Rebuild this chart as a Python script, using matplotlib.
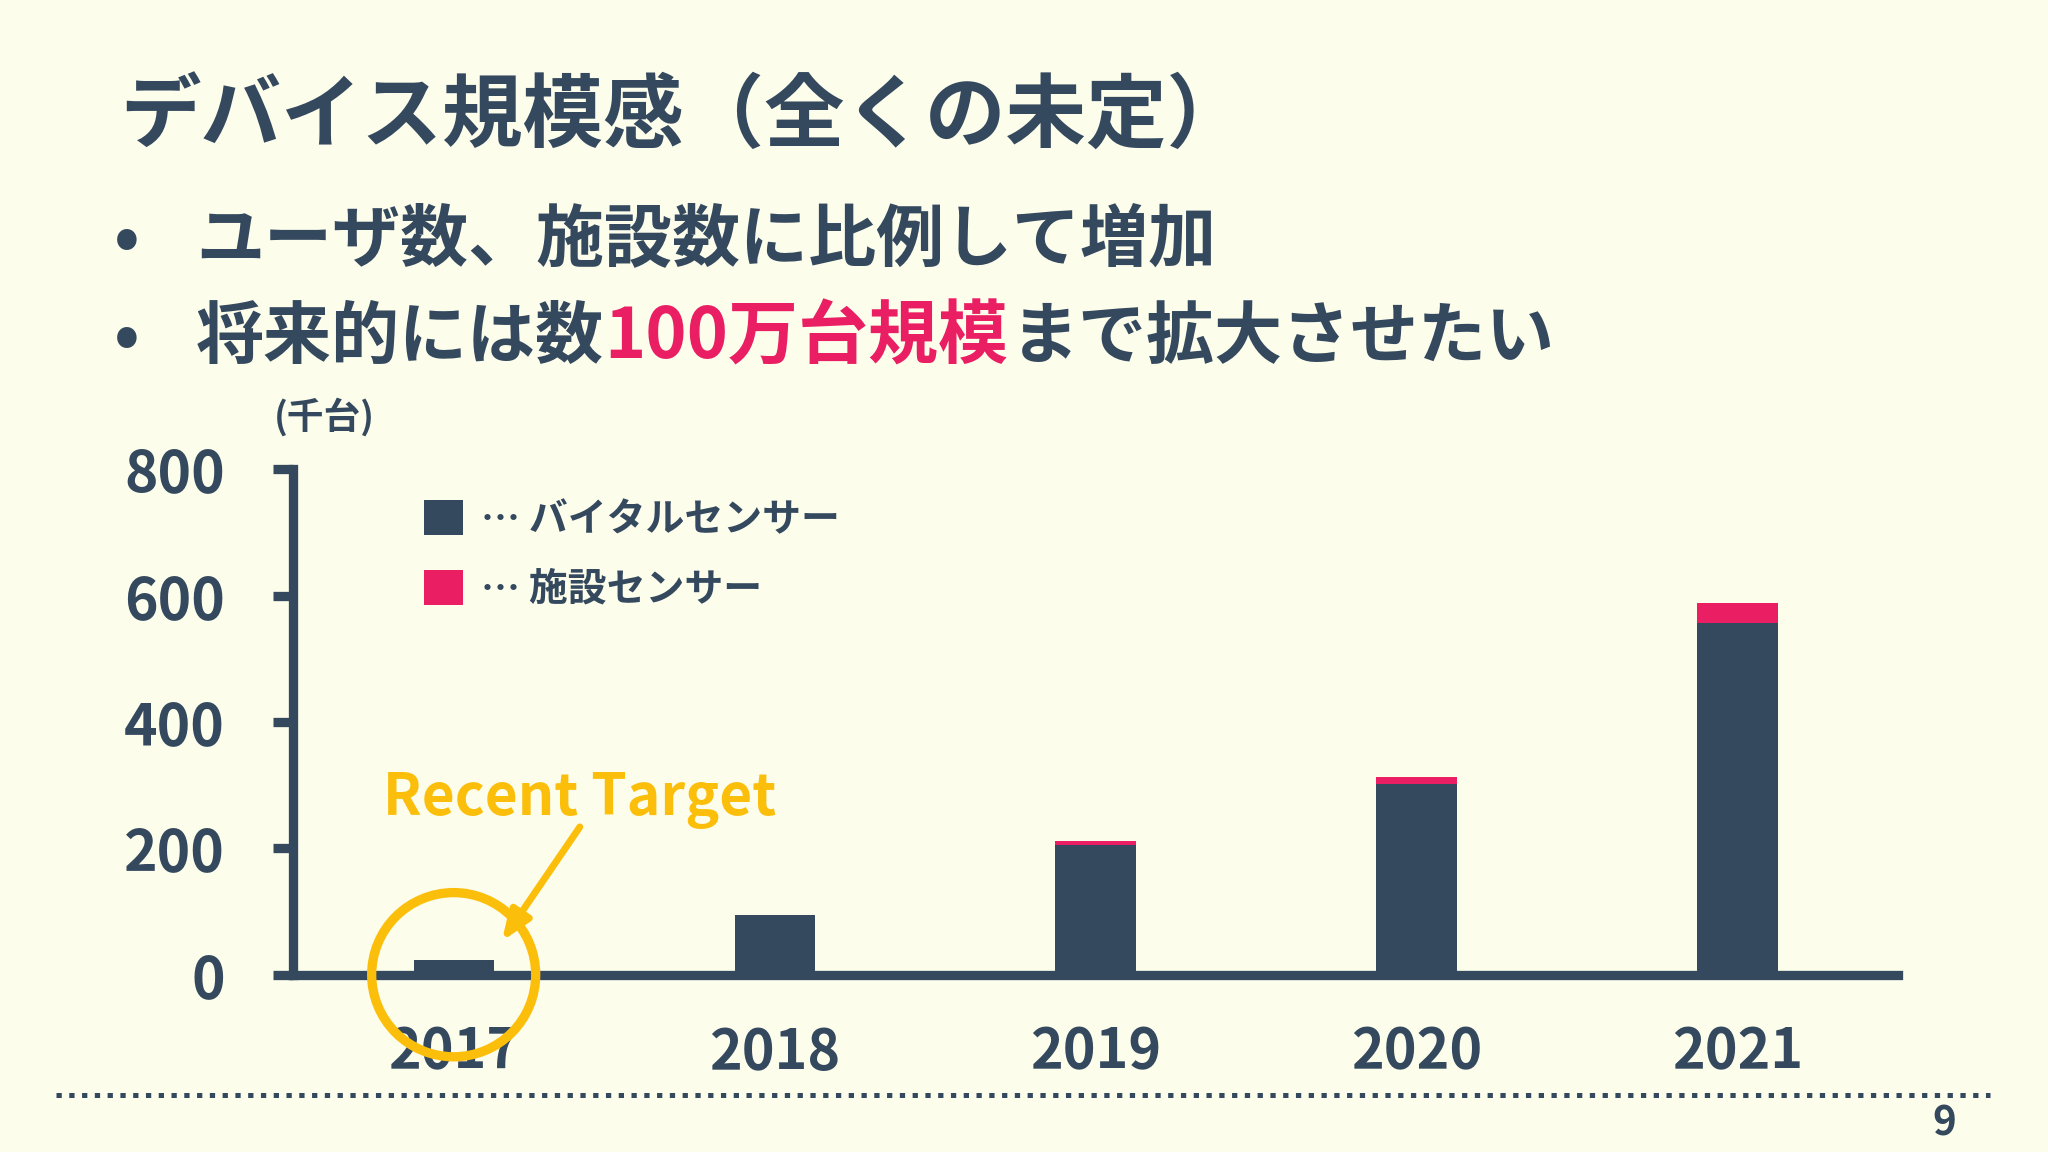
import matplotlib
matplotlib.use('Agg')
import matplotlib.pyplot as plt
from matplotlib.patches import Ellipse
from matplotlib.lines import Line2D

# ---- data ----
years = ['2017', '2018', '2019', '2020', '2021']
vital = [23, 95, 206, 302, 557]
facility = [0, 0, 5, 11, 32]
yticks = [0, 200, 400, 600, 800]
legend_labels = ['… バイタルセンサー', '… 施設センサー']
title = 'デバイス規模感（全くの未定）'
bullet1 = 'ユーザ数、施設数に比例して増加'
bullet2_parts = ['将来的には数', '100万台規模', 'まで拡大させたい']
unit_label = '(千台)'
annot_text = 'Recent Target'
page_no = '9'

DARK = '#34495e'
PINK = '#e91e63'
YELLOW = '#fbbf0b'
BG = '#fdfdec'

plt.rcParams['font.family'] = ['Noto Sans CJK JP', 'DejaVu Sans']
plt.rcParams['font.weight'] = 'bold'
plt.rcParams['lines.scale_dashes'] = False

W, H = 2048, 1152
fig = plt.figure(figsize=(10.24, 5.76), dpi=200, facecolor=BG)

def fx(px):
    return px / W

def fy(py):
    return 1 - py / H

ax = fig.add_axes([fx(293.2), fy(974.7), fx(1898) - fx(293.2), fy(469.5) - fy(974.7)])
ax.set_facecolor('none')

x = list(range(len(years)))
b1 = ax.bar(x, vital, 0.25, color=DARK, linewidth=0, label=legend_labels[0], zorder=2)
b2 = ax.bar(x, facility, 0.25, bottom=vital, color=PINK, linewidth=0, label=legend_labels[1], zorder=2)

ax.set_xlim(-0.5, len(years) - 0.5)
ax.set_ylim(0, 800)
ax.set_yticks(yticks)
ax.set_xticks(x)
ax.set_xticklabels(years)

for s in ['top', 'right']:
    ax.spines[s].set_visible(False)
for s in ['left', 'bottom']:
    ax.spines[s].set_linewidth(3.35)
    ax.spines[s].set_color(DARK)
    ax.spines[s].set_zorder(3)

ax.tick_params(axis='y', length=7.1, width=3.35, color=DARK, pad=17.5,
               labelsize=20.5, labelcolor=DARK)
ax.tick_params(axis='x', length=0, pad=18, labelsize=20, labelcolor=DARK)

leg = ax.legend(handles=[b1, b2], loc='upper left', bbox_to_anchor=(0.0818, 0.940),
                frameon=False, fontsize=14, handlelength=1.0, handleheight=1.0,
                handletextpad=0.45, labelspacing=0.8, borderpad=0, borderaxespad=0,
                labelcolor=DARK)

# annotation: circle around 2017, arrow and label
circ = Ellipse((x[0], 0), width=0.511, height=260, fill=False, ec=YELLOW,
               lw=3.35, clip_on=False, zorder=6)
ax.add_patch(circ)
ax.annotate('', xy=(x[0] + 0.15, 53), xytext=(x[0] + 0.393, 234),
            arrowprops=dict(arrowstyle='-|>,head_length=0.9,head_width=0.35',
                            color=YELLOW, lw=2.5, shrinkA=0, shrinkB=0,
                            mutation_scale=10),
            zorder=6, annotation_clip=False)
ax.text(x[0] + 0.393, 253, annot_text, ha='center', va='baseline',
        fontsize=20.5, color=YELLOW, fontweight='bold', zorder=6)

# texts
fig.text(fx(120), fy(118), title, fontsize=29, color=DARK, ha='left', va='center')
fig.text(fx(127), fy(241), '•', fontsize=24.5, color=DARK, ha='center', va='center')
fig.text(fx(196), fy(241), bullet1, fontsize=24.5, color=DARK, ha='left', va='center')
fig.text(fx(127), fy(338), '•', fontsize=24.5, color=DARK, ha='center', va='center')

renderer = fig.canvas.get_renderer()
cur_x = fx(196)
colors = [DARK, PINK, DARK]
sizes = [24.5, 25.2, 24.5]
gaps = [0, 3, 0]
for part, col, sz, g in zip(bullet2_parts, colors, sizes, gaps):
    t = fig.text(cur_x, fy(338), part, fontsize=sz, color=col, ha='left', va='center')
    bb = t.get_window_extent(renderer)
    cur_x = fx(bb.x1 + g)

fig.text(fx(274), fy(417), unit_label, fontsize=13.2, color=DARK, ha='left', va='center')

# footer dotted line and page number
fig.add_artist(Line2D([fx(55.7), fx(1990)], [fy(1095), fy(1095)], transform=fig.transFigure,
                      lw=1.8, color=DARK, dashes=(1.9, 2.7), dash_capstyle='butt'))
fig.text(fx(1944), fy(1123.5), page_no, fontsize=14.5, color=DARK, ha='center', va='center')

fig.savefig('out.png', dpi=200, facecolor=BG)
